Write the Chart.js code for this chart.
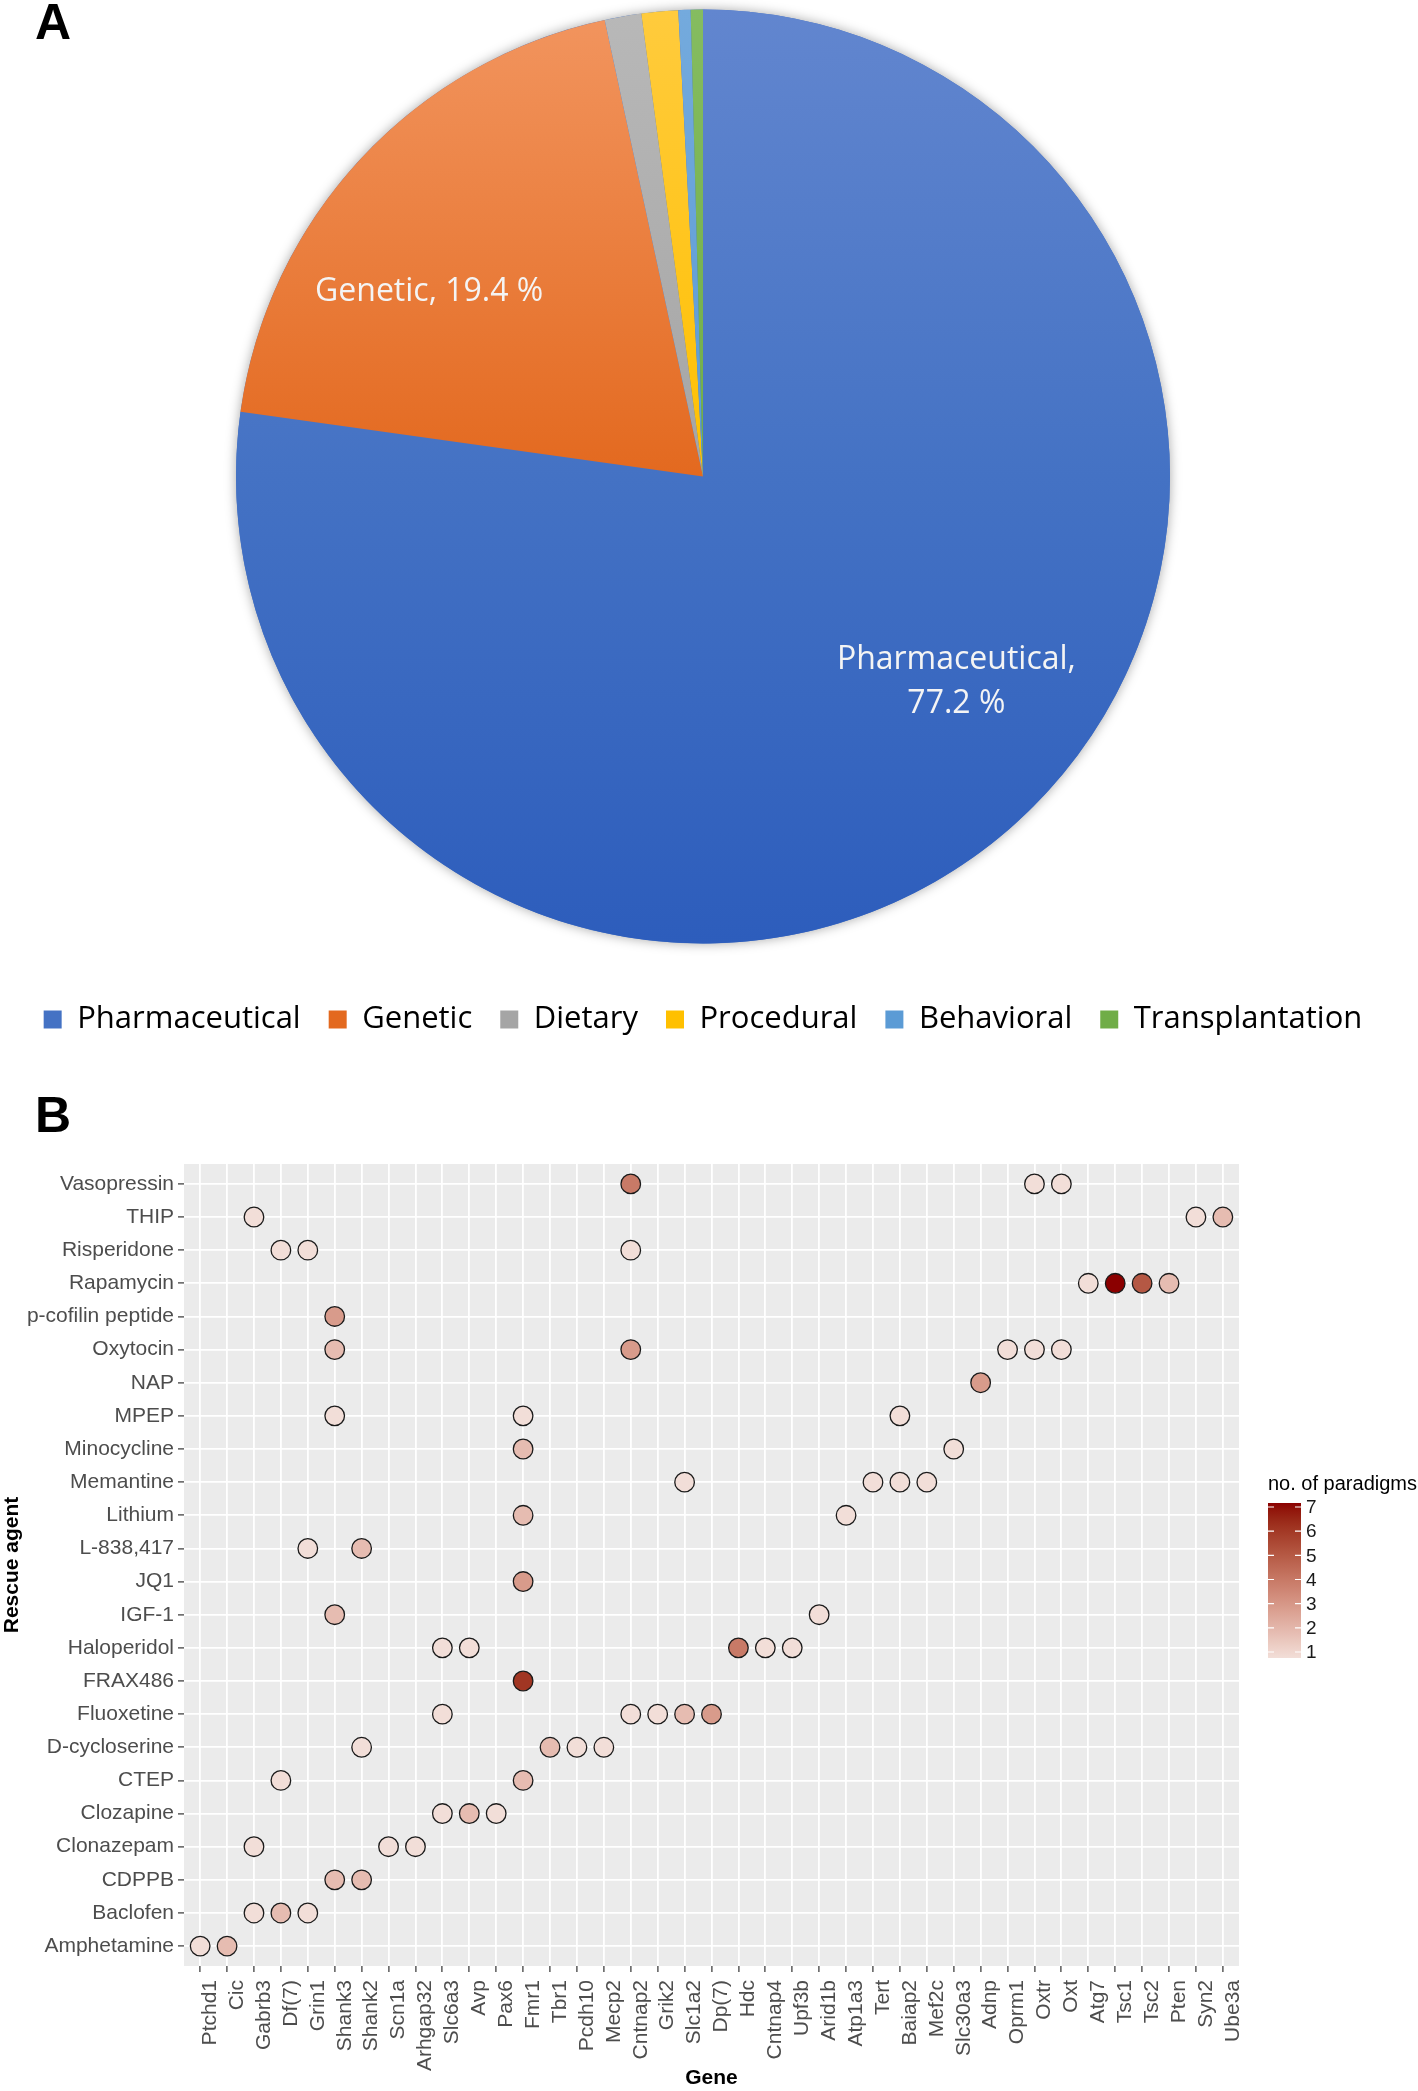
<!DOCTYPE html>
<html>
<head>
<meta charset="utf-8">
<script src="https://cdn.jsdelivr.net/npm/chart.js@4"></script>
<style>
  body { margin: 0; background: #fff; width: 1418px; height: 2091px; overflow: hidden; position: relative; }
  canvas { position: absolute; left: 0; }
  #pie { top: -23px; }
  #dots { top: 1090px; }
  .panel { position: absolute; left: 35px; font: bold 50px "Liberation Sans", Arial, sans-serif; line-height: 50px; color: #000; z-index: 2; }
</style>
</head>
<body>
<div class="panel" style="top:-3px">A</div>
<div class="panel" style="top:1090px">B</div>
<canvas id="pie" width="1418" height="1083"></canvas>
<canvas id="dots" width="1418" height="1001"></canvas>
<script>
// ---- panel A: type of rescue ----
var rescueTypes = ['Pharmaceutical', 'Genetic', 'Dietary', 'Procedural', 'Behavioral', 'Transplantation'];
var rescueCounts = [183, 46, 3, 3, 1, 1];

// ---- panel B: rescue agent vs gene ----
var genes = ['Ptchd1', 'Cic', 'Gabrb3', 'Df(7)', 'Grin1', 'Shank3', 'Shank2', 'Scn1a', 'Arhgap32', 'Slc6a3',
  'Avp', 'Pax6', 'Fmr1', 'Tbr1', 'Pcdh10', 'Mecp2', 'Cntnap2', 'Grik2', 'Slc1a2', 'Dp(7)',
  'Hdc', 'Cntnap4', 'Upf3b', 'Arid1b', 'Atp1a3', 'Tert', 'Baiap2', 'Mef2c', 'Slc30a3', 'Adnp',
  'Oprm1', 'Oxtr', 'Oxt', 'Atg7', 'Tsc1', 'Tsc2', 'Pten', 'Syn2', 'Ube3a'];

var agents = ['Vasopressin', 'THIP', 'Risperidone', 'Rapamycin', 'p-cofilin peptide', 'Oxytocin', 'NAP',
  'MPEP', 'Minocycline', 'Memantine', 'Lithium', 'L-838,417', 'JQ1', 'IGF-1', 'Haloperidol', 'FRAX486',
  'Fluoxetine', 'D-cycloserine', 'CTEP', 'Clozapine', 'Clonazepam', 'CDPPB', 'Baclofen', 'Amphetamine'];

// [agent, gene, no. of paradigms]
var paradigms = [
  ['Vasopressin', 'Cntnap2', 4], ['Vasopressin', 'Oxtr', 1], ['Vasopressin', 'Oxt', 1],
  ['THIP', 'Gabrb3', 1], ['THIP', 'Syn2', 1], ['THIP', 'Ube3a', 2],
  ['Risperidone', 'Df(7)', 1], ['Risperidone', 'Grin1', 1], ['Risperidone', 'Cntnap2', 1],
  ['Rapamycin', 'Atg7', 1], ['Rapamycin', 'Tsc1', 7], ['Rapamycin', 'Tsc2', 5], ['Rapamycin', 'Pten', 2],
  ['p-cofilin peptide', 'Shank3', 3],
  ['Oxytocin', 'Shank3', 2], ['Oxytocin', 'Cntnap2', 3], ['Oxytocin', 'Oprm1', 1], ['Oxytocin', 'Oxtr', 1], ['Oxytocin', 'Oxt', 1],
  ['NAP', 'Adnp', 3],
  ['MPEP', 'Shank3', 1], ['MPEP', 'Fmr1', 1], ['MPEP', 'Baiap2', 1],
  ['Minocycline', 'Fmr1', 2], ['Minocycline', 'Slc30a3', 1],
  ['Memantine', 'Slc1a2', 1], ['Memantine', 'Tert', 1], ['Memantine', 'Baiap2', 1], ['Memantine', 'Mef2c', 1],
  ['Lithium', 'Fmr1', 2], ['Lithium', 'Atp1a3', 1],
  ['L-838,417', 'Grin1', 1], ['L-838,417', 'Shank2', 2],
  ['JQ1', 'Fmr1', 3],
  ['IGF-1', 'Shank3', 2], ['IGF-1', 'Arid1b', 1],
  ['Haloperidol', 'Slc6a3', 1], ['Haloperidol', 'Avp', 1], ['Haloperidol', 'Hdc', 4], ['Haloperidol', 'Cntnap4', 1], ['Haloperidol', 'Upf3b', 1],
  ['FRAX486', 'Fmr1', 6],
  ['Fluoxetine', 'Slc6a3', 1], ['Fluoxetine', 'Cntnap2', 1], ['Fluoxetine', 'Grik2', 1], ['Fluoxetine', 'Slc1a2', 2], ['Fluoxetine', 'Dp(7)', 3],
  ['D-cycloserine', 'Shank2', 1], ['D-cycloserine', 'Tbr1', 2], ['D-cycloserine', 'Pcdh10', 1], ['D-cycloserine', 'Mecp2', 1],
  ['CTEP', 'Df(7)', 1], ['CTEP', 'Fmr1', 2],
  ['Clozapine', 'Slc6a3', 1], ['Clozapine', 'Avp', 2], ['Clozapine', 'Pax6', 1],
  ['Clonazepam', 'Gabrb3', 1], ['Clonazepam', 'Scn1a', 1], ['Clonazepam', 'Arhgap32', 1],
  ['CDPPB', 'Shank3', 2], ['CDPPB', 'Shank2', 2],
  ['Baclofen', 'Gabrb3', 1], ['Baclofen', 'Df(7)', 2], ['Baclofen', 'Grin1', 1],
  ['Amphetamine', 'Ptchd1', 1], ['Amphetamine', 'Cic', 2]
];
var colorbarTicks = [1, 2, 3, 4, 5, 6, 7];

// slice colours: light top / base / dark bottom (office style gradient)
var sliceColors = [
  ['#6286CF', '#4472C4', '#2D5DBC'],
  ['#F2955F', '#E3691F', '#C85A12'],
  ['#B8B8B8', '#A5A5A5', '#8E8E8E'],
  ['#FFCB3D', '#FFC000', '#E8AE00'],
  ['#74AADD', '#5B9BD5', '#3E82C2'],
  ['#85BC60', '#70AD47', '#5B963A']
];
// where the two big slice labels sit (fraction of the slice angle, fraction of radius)
var labelAnchor = [[0.464, 0.698], [0.372, 0.707]];

Chart.defaults.animation = false;
Chart.defaults.font.family = '"Liberation Sans", Arial, sans-serif';

// ---------------- pie -----------------
var pieShadow = {
  id: 'pieShadow',
  beforeDatasetsDraw: function(chart) {
    var arc = chart.getDatasetMeta(0).data[0];
    var ctx = chart.ctx;
    ctx.save();
    ctx.beginPath();
    ctx.arc(arc.x, arc.y, arc.outerRadius, 0, Math.PI * 2);
    ctx.shadowColor = 'rgba(0,0,0,0.35)';
    ctx.shadowBlur = 12;
    ctx.fillStyle = '#4472C4';
    ctx.fill();
    ctx.restore();
  }
};

var pieLabels = {
  id: 'pieLabels',
  afterDatasetsDraw: function(chart) {
    var ctx = chart.ctx;
    var meta = chart.getDatasetMeta(0);
    var total = rescueCounts.reduce(function(a, b) { return a + b; }, 0);
    ctx.save();
    ctx.font = '32px "Open Sans", sans-serif';
    ctx.fillStyle = '#F4F4F4';
    ctx.textAlign = 'center';
    ctx.textBaseline = 'middle';
    labelAnchor.forEach(function(anchor, i) {
      var arc = meta.data[i];
      var a = arc.startAngle + anchor[0] * (arc.endAngle - arc.startAngle);
      var r = arc.outerRadius * anchor[1];
      var x = arc.x + r * Math.cos(a);
      var y = arc.y + r * Math.sin(a);
      var pct = (rescueCounts[i] / total * 100).toFixed(1) + ' %';
      if (rescueTypes[i].length > 10) {
        ctx.fillText(rescueTypes[i] + ',', x, y - 22);
        ctx.fillText(pct, x, y + 22);
      } else {
        ctx.fillText(rescueTypes[i] + ', ' + pct, x, y);
      }
    });
    ctx.restore();
  }
};

function sliceFill(context) {
  var c = sliceColors[context.dataIndex];
  var area = context.chart.chartArea;
  if (!area) return c[1];
  var cy = (area.top + area.bottom) / 2;
  var g = context.chart.ctx.createLinearGradient(0, cy - 467, 0, cy + 467);
  g.addColorStop(0, c[0]);
  g.addColorStop(0.5, c[1]);
  g.addColorStop(1, c[2]);
  return g;
}

new Chart(document.getElementById('pie'), {
  type: 'pie',
  data: {
    labels: rescueTypes,
    datasets: [{
      data: rescueCounts,
      backgroundColor: sliceFill,
      borderWidth: 0,
      radius: 467
    }]
  },
  options: {
    responsive: false,
    devicePixelRatio: 1,
    layout: { padding: { top: 0, left: 0, right: 12, bottom: 15 } },
    plugins: {
      tooltip: { enabled: false },
      legend: {
        position: 'bottom',
        labels: {
          boxWidth: 18,
          boxHeight: 18,
          padding: 28,
          color: '#595959',
          font: { family: '"Open Sans", sans-serif', size: 31 },
          generateLabels: function(chart) {
            return rescueTypes.map(function(t, i) {
              return { text: t, fillStyle: sliceColors[i][1], strokeStyle: sliceColors[i][1], lineWidth: 0, index: i };
            });
          }
        }
      }
    }
  },
  plugins: [pieShadow, pieLabels]
});

// ---------------- dot plot -----------------
// ggplot-like gradient (interpolated in Lab) from low to high
var lowColor = '#F2DED8', highColor = '#8B0000';
function toLab(hex) {
  var c = [1, 3, 5].map(function(i) {
    var v = parseInt(hex.substr(i, 2), 16) / 255;
    return v <= 0.04045 ? v / 12.92 : Math.pow((v + 0.055) / 1.055, 2.4);
  });
  var X = (c[0] * 0.4124 + c[1] * 0.3576 + c[2] * 0.1805) / 0.95047;
  var Y = c[0] * 0.2126 + c[1] * 0.7152 + c[2] * 0.0722;
  var Z = (c[0] * 0.0193 + c[1] * 0.1192 + c[2] * 0.9505) / 1.08883;
  var f = function(t) { return t > 0.008856 ? Math.cbrt(t) : 7.787 * t + 16 / 116; };
  return [116 * f(Y) - 16, 500 * (f(X) - f(Y)), 200 * (f(Y) - f(Z))];
}
function fromLab(L, a, b) {
  var fy = (L + 16) / 116, fx = fy + a / 500, fz = fy - b / 200;
  var inv = function(t) { return t * t * t > 0.008856 ? t * t * t : (t - 16 / 116) / 7.787; };
  var X = inv(fx) * 0.95047, Y = inv(fy), Z = inv(fz) * 1.08883;
  var rgb = [X * 3.2406 - Y * 1.5372 - Z * 0.4986, -X * 0.9689 + Y * 1.8758 + Z * 0.0415, X * 0.0557 - Y * 0.2040 + Z * 1.0570];
  rgb = rgb.map(function(v) {
    v = Math.max(0, v);
    v = v <= 0.0031308 ? 12.92 * v : 1.055 * Math.pow(v, 1 / 2.4) - 0.055;
    return Math.round(Math.max(0, Math.min(1, v)) * 255);
  });
  return 'rgb(' + rgb.join(',') + ')';
}
var labLow = toLab(lowColor), labHigh = toLab(highColor);
function paradigmColor(n) {
  var t = (n - 1) / 6;
  return fromLab(labLow[0] + t * (labHigh[0] - labLow[0]),
                 labLow[1] + t * (labHigh[1] - labLow[1]),
                 labLow[2] + t * (labHigh[2] - labLow[2]));
}

var panelBg = {
  id: 'panelBg',
  beforeDraw: function(chart) {
    var a = chart.chartArea;
    chart.ctx.save();
    chart.ctx.fillStyle = '#EBEBEB';
    chart.ctx.fillRect(a.left, a.top, a.right - a.left, a.bottom - a.top);
    chart.ctx.restore();
  }
};

var colorbar = {
  id: 'colorbar',
  afterDraw: function(chart) {
    var ctx = chart.ctx;
    var a = chart.chartArea;
    var x0 = a.right + 29, w = 33;
    var top = 413, bottom = 568;       // bar extent
    var yHigh = 417, yLow = 562;       // where 7 and 1 sit
    ctx.save();
    ctx.fillStyle = '#000';
    ctx.font = '20px "Liberation Sans", Arial, sans-serif';
    ctx.textBaseline = 'alphabetic';
    ctx.fillText('no. of paradigms', x0, 400);
    var g = ctx.createLinearGradient(0, bottom, 0, top);
    for (var k = 0; k <= 20; k++) {
      g.addColorStop(k / 20, paradigmColor(1 + 6 * k / 20));
    }
    ctx.fillStyle = g;
    ctx.fillRect(x0, top, w, bottom - top);
    ctx.strokeStyle = '#fff';
    ctx.lineWidth = 1.2;
    ctx.font = '19px "Liberation Sans", Arial, sans-serif';
    ctx.fillStyle = '#1A1A1A';
    ctx.textBaseline = 'middle';
    colorbarTicks.forEach(function(v) {
      var y = yLow - (v - 1) / 6 * (yLow - yHigh);
      ctx.beginPath();
      ctx.moveTo(x0, y); ctx.lineTo(x0 + 6, y);
      ctx.moveTo(x0 + w - 6, y); ctx.lineTo(x0 + w, y);
      ctx.stroke();
      ctx.fillText(String(v), x0 + w + 5, y + 1);
    });
    ctx.restore();
  }
};

var dotData = paradigms.map(function(p) {
  return { x: genes.indexOf(p[1]), y: agents.indexOf(p[0]), n: p[2] };
});

new Chart(document.getElementById('dots'), {
  type: 'scatter',
  data: {
    datasets: [{
      data: dotData,
      pointRadius: 9.8,
      pointBorderWidth: 1.3,
      pointBorderColor: '#1A1A1A',
      pointBackgroundColor: function(ctx) { return ctx.raw ? paradigmColor(ctx.raw.n) : lowColor; }
    }]
  },
  options: {
    responsive: false,
    devicePixelRatio: 1,
    layout: { padding: { top: 74, left: 0, right: 179, bottom: 0 } },
    plugins: { legend: { display: false }, tooltip: { enabled: false } },
    scales: {
      x: {
        type: 'linear',
        min: -0.6,
        max: genes.length - 0.4,
        afterBuildTicks: function(s) { s.ticks = genes.map(function(g, i) { return { value: i }; }); },
        afterFit: function(s) { s.height = 125; },
        grid: { color: '#FFFFFF', lineWidth: 1.8, tickColor: '#333333', tickLength: 6, tickWidth: 1.2 },
        border: { display: false },
        ticks: {
          autoSkip: false,
          minRotation: 90,
          maxRotation: 90,
          padding: 8,
          labelOffset: 10,
          color: '#4D4D4D',
          font: { size: 21 },
          callback: function(v) { return genes[v]; }
        },
        title: { display: true, text: 'Gene', color: '#000', padding: 0, font: { size: 21, weight: 'bold' } }
      },
      y: {
        type: 'linear',
        reverse: true,
        min: -0.6,
        max: agents.length - 0.4,
        afterBuildTicks: function(s) { s.ticks = agents.map(function(g, i) { return { value: i }; }); },
        afterFit: function(s) { s.width = 184; },
        grid: { color: '#FFFFFF', lineWidth: 1.8, tickColor: '#333333', tickLength: 6, tickWidth: 1.2 },
        border: { display: false },
        ticks: {
          autoSkip: false,
          padding: 4,
          color: '#4D4D4D',
          font: { size: 21 },
          callback: function(v) { return agents[v]; }
        },
        title: { display: true, text: 'Rescue agent', color: '#000', padding: 0, font: { size: 21, weight: 'bold' } }
      }
    }
  },
  plugins: [panelBg, colorbar]
});
</script>
</body>
</html>
